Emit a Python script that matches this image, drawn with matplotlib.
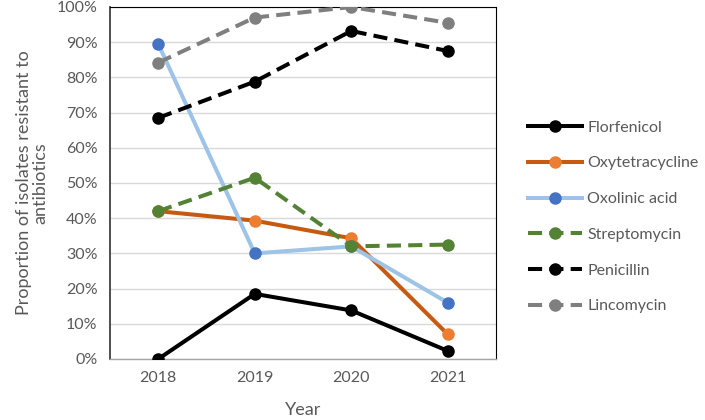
import matplotlib
matplotlib.use("Agg")
import matplotlib.pyplot as plt
from matplotlib.ticker import PercentFormatter

# ── Data ─────────────────────────────────────────────────────────────────────
years = ["2018", "2019", "2020", "2021"]
florfenicol     = [0.0, 18.5, 13.8, 2.3]
oxytetracycline = [42.0, 39.3, 34.3, 7.0]
oxolinic_acid   = [89.5, 30.0, 32.0, 16.0]
streptomycin    = [42.0, 51.5, 32.0, 32.5]
penicillin      = [68.5, 78.8, 93.2, 87.5]
lincomycin      = [84.2, 97.0, 100.0, 95.5]

series = [
    ("Florfenicol",     florfenicol,     "#000000", "#000000", "-"),
    ("Oxytetracycline", oxytetracycline, "#C55A11", "#ED7D31", "-"),
    ("Oxolinic acid",   oxolinic_acid,   "#9DC3E6", "#4472C4", "-"),
    ("Streptomycin",    streptomycin,    "#548235", "#548235", "--"),
    ("Penicillin",      penicillin,      "#000000", "#000000", "--"),
    ("Lincomycin",      lincomycin,      "#7F7F7F", "#7F7F7F", "--"),
]

plt.rcParams["font.family"] = ["Lato", "DejaVu Sans"]
TXT = "#595959"

fig = plt.figure(figsize=(7.05, 4.2), dpi=100)
ax = fig.add_axes([110 / 705, 1 - 359 / 420, 386 / 705, 352 / 420])

x = list(range(len(years)))
for name, vals, lc, mc, ls in series:
    line, = ax.plot(x, vals, color=lc, lw=2.9, ls=ls, marker="o", ms=8,
                    mfc=mc, mec=mc, label=name, zorder=3)
    if ls == "--":
        line.set_dashes((3.5, 1.8))

ax.set_xlim(-0.5, 3.5)
ax.set_ylim(0, 100)
ax.set_xticks(x)
ax.set_xticklabels(years)
ax.set_yticks(range(0, 101, 10))
ax.yaxis.set_major_formatter(PercentFormatter(decimals=0))
ax.grid(axis="y", color="#D9D9D9", lw=1.0, zorder=0)
ax.tick_params(length=0, labelsize=11.5, labelcolor=TXT, pad=9)

for side in ("top", "right"):
    ax.spines[side].set_color("#000000")
    ax.spines[side].set_linewidth(0.8)
ax.spines["left"].set_color("#404040")
ax.spines["left"].set_linewidth(1.3)
ax.spines["bottom"].set_color("#A6A6A6")
ax.spines["bottom"].set_linewidth(1.0)

ax.set_xlabel("Year", fontsize=13, color=TXT, labelpad=12)
ax.set_ylabel("Proportion of isolates resistant to\nantibiotics", fontsize=13,
              color=TXT, labelpad=6, linespacing=1.05)

ax.legend(loc="center left", bbox_to_anchor=(528 / 705, 1 - 217 / 420),
          bbox_transform=fig.transFigure, frameon=False, fontsize=11.5,
          labelcolor=TXT, handlelength=3.4, handletextpad=0.3,
          labelspacing=1.35, borderaxespad=0, borderpad=0)

fig.savefig("out.png", dpi=100)
